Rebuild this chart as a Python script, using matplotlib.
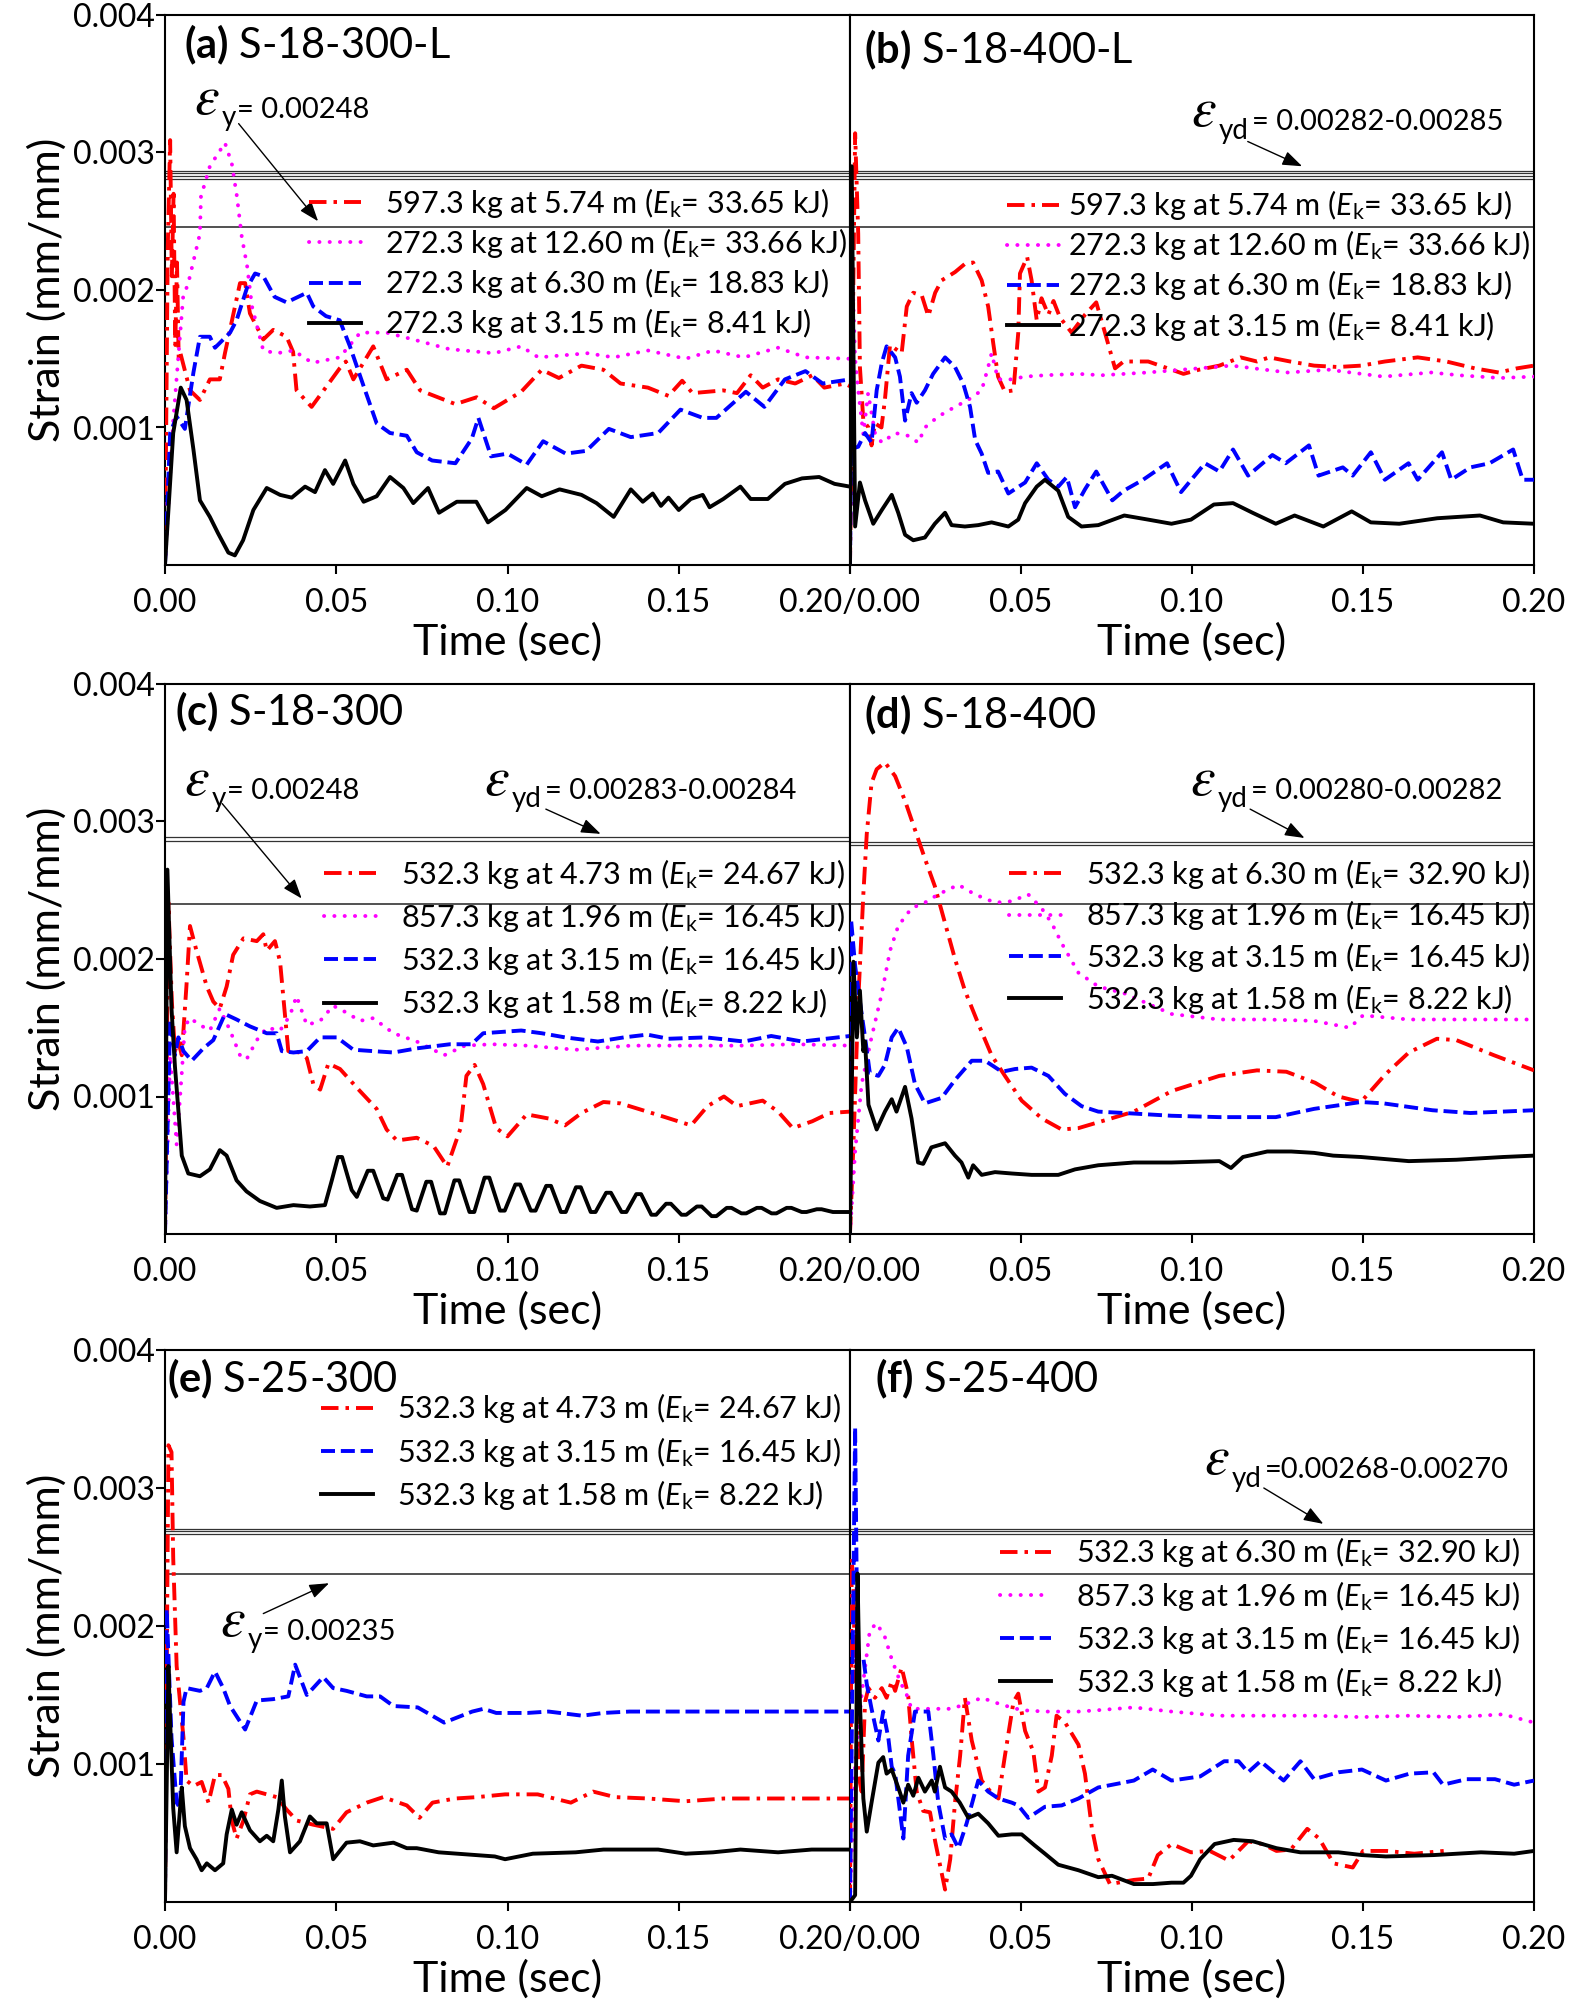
import matplotlib
matplotlib.use("Agg")
import matplotlib.pyplot as plt
from matplotlib.ticker import FixedLocator

plt.rcParams["font.family"] = ["Lato", "DejaVu Sans"]
plt.rcParams["mathtext.fontset"] = "custom"
plt.rcParams["mathtext.rm"] = "Lato"
plt.rcParams["mathtext.it"] = "Lato:italic"
plt.rcParams["mathtext.bf"] = "Lato:bold"

# ---------------- data: (time s, strain x1e-3) ----------------
a_red = [(0, 0), (0.0008, 2.3), (0.0015, 3.09), (0.002, 2.1), (0.0025, 2.7), (0.003, 1.6), (0.0035, 2.2),
         (0.004, 1.5), (0.0045, 1.54), (0.0073, 1.27), (0.0102, 1.2), (0.0131, 1.35), (0.016, 1.35),
         (0.0175, 1.54), (0.0219, 2.05), (0.0234, 2.05), (0.0248, 1.83), (0.0287, 1.64), (0.0316, 1.71),
         (0.0355, 1.66), (0.0374, 1.55), (0.0384, 1.27), (0.0428, 1.15), (0.0472, 1.3), (0.051, 1.43),
         (0.0528, 1.48), (0.055, 1.35), (0.0608, 1.59), (0.0647, 1.35), (0.0706, 1.42), (0.0745, 1.27),
         (0.0848, 1.17), (0.091, 1.22), (0.096, 1.14), (0.104, 1.26), (0.110, 1.42), (0.115, 1.36),
         (0.1216, 1.45), (0.128, 1.42), (0.133, 1.32), (0.141, 1.29), (0.147, 1.23), (0.151, 1.34),
         (0.154, 1.25), (0.163, 1.27), (0.167, 1.25), (0.171, 1.38), (0.1745, 1.29), (0.179, 1.35),
         (0.184, 1.32), (0.189, 1.38), (0.1925, 1.29), (0.1985, 1.32), (0.2, 1.30)]
a_mag = [(0, 0), (0.0024, 1.05), (0.0053, 1.95), (0.0068, 2.05), (0.0102, 2.41), (0.0105, 2.68), (0.0131, 2.9),
         (0.0175, 3.07), (0.0195, 2.92), (0.021, 2.68), (0.0224, 2.39), (0.024, 2.17), (0.0254, 1.88),
         (0.0287, 1.56), (0.0326, 1.54), (0.0375, 1.56), (0.043, 1.47), (0.051, 1.51), (0.057, 1.69),
         (0.0647, 1.69), (0.0725, 1.64), (0.083, 1.57), (0.096, 1.54), (0.104, 1.59), (0.109, 1.51),
         (0.1234, 1.54), (0.131, 1.51), (0.141, 1.56), (0.152, 1.5), (0.16, 1.56), (0.169, 1.51),
         (0.179, 1.58), (0.187, 1.51), (0.2, 1.5)]
a_blue = [(0, 0), (0.0015, 0.96), (0.0034, 1.08), (0.0058, 0.99), (0.0083, 1.4), (0.0102, 1.66), (0.0131, 1.66),
          (0.0146, 1.58), (0.019, 1.69), (0.0209, 1.78), (0.024, 2.02), (0.0263, 2.12), (0.0287, 2.1),
          (0.032, 1.95), (0.0355, 1.91), (0.0414, 1.98), (0.0433, 1.88), (0.047, 1.81), (0.051, 1.78),
          (0.054, 1.59), (0.058, 1.3), (0.0618, 1.03), (0.0657, 0.96), (0.0706, 0.94), (0.0735, 0.82),
          (0.078, 0.76), (0.0848, 0.74), (0.0896, 0.92), (0.0915, 1.07), (0.0952, 0.79), (0.1, 0.81),
          (0.1056, 0.73), (0.1104, 0.9), (0.117, 0.81), (0.123, 0.83), (0.1296, 0.99), (0.136, 0.93),
          (0.144, 0.96), (0.1505, 1.13), (0.157, 1.07), (0.161, 1.07), (0.1696, 1.26), (0.175, 1.15),
          (0.181, 1.35), (0.187, 1.41), (0.192, 1.32), (0.2, 1.35)]
a_black = [(0, 0), (0.0024, 0.96), (0.0046, 1.29), (0.0063, 1.2), (0.0083, 0.84), (0.0102, 0.47), (0.0131, 0.35),
           (0.0155, 0.23), (0.0185, 0.09), (0.0204, 0.07), (0.0228, 0.18), (0.0258, 0.4), (0.0297, 0.56),
           (0.0336, 0.51), (0.037, 0.49), (0.0409, 0.57), (0.0438, 0.53), (0.0467, 0.69), (0.0491, 0.59),
           (0.0526, 0.76), (0.055, 0.59), (0.058, 0.46), (0.0618, 0.5), (0.0657, 0.64), (0.0696, 0.56),
           (0.0725, 0.45), (0.0768, 0.56), (0.08, 0.38), (0.0852, 0.46), (0.0909, 0.46), (0.0943, 0.31),
           (0.0994, 0.4), (0.1056, 0.56), (0.11, 0.5), (0.1152, 0.55), (0.1216, 0.51), (0.126, 0.45),
           (0.131, 0.35), (0.136, 0.55), (0.1395, 0.46), (0.1424, 0.52), (0.1448, 0.43), (0.147, 0.49),
           (0.15, 0.4), (0.1535, 0.48), (0.157, 0.51), (0.159, 0.42), (0.163, 0.48), (0.168, 0.57),
           (0.171, 0.48), (0.176, 0.48), (0.181, 0.59), (0.186, 0.63), (0.191, 0.64), (0.1955, 0.59), (0.2, 0.57)]

b_red = [(0, 0), (0.0015, 3.14), (0.0024, 2.41), (0.0029, 1.44), (0.0039, 1.05), (0.0054, 1.0), (0.0063, 0.87),
         (0.0073, 1.03), (0.0092, 1.0), (0.0102, 1.2), (0.0117, 1.6), (0.0151, 1.54), (0.0166, 1.88),
         (0.0185, 1.98), (0.021, 1.96), (0.0229, 1.81), (0.0249, 1.98), (0.0268, 2.07), (0.0307, 2.13),
         (0.0336, 2.19), (0.036, 2.2), (0.0385, 2.07), (0.0404, 1.88), (0.0419, 1.61), (0.0433, 1.37),
         (0.0453, 1.26), (0.0478, 1.27), (0.0492, 1.69), (0.0497, 2.12), (0.0518, 2.24), (0.0531, 2.07),
         (0.0546, 1.78), (0.056, 1.94), (0.058, 1.82), (0.0595, 1.92), (0.0614, 1.8), (0.0648, 1.69),
         (0.0687, 1.82), (0.072, 1.91), (0.0742, 1.72), (0.0775, 1.43), (0.08, 1.48), (0.0872, 1.48),
         (0.0941, 1.42), (0.0975, 1.39), (0.102, 1.42), (0.108, 1.45), (0.1142, 1.51), (0.119, 1.48),
         (0.1226, 1.51), (0.1287, 1.48), (0.1357, 1.45), (0.1426, 1.44), (0.1495, 1.45), (0.1564, 1.48),
         (0.166, 1.51), (0.1744, 1.48), (0.1827, 1.43), (0.1897, 1.40), (0.195, 1.43), (0.2, 1.45)]
b_mag = [(0, 0), (0.0008, 2.05), (0.0015, 1.5), (0.0024, 1.27), (0.0039, 0.95), (0.0053, 1.25), (0.0073, 0.96),
         (0.0093, 0.89), (0.0132, 0.96), (0.017, 0.94), (0.02, 0.89), (0.0219, 1.0), (0.0258, 1.08),
         (0.0307, 1.15), (0.0345, 1.2), (0.0385, 1.27), (0.0404, 1.44), (0.0414, 1.54), (0.0433, 1.35),
         (0.047, 1.35), (0.0512, 1.37), (0.057, 1.38), (0.0667, 1.39), (0.0736, 1.38), (0.087, 1.40),
         (0.1116, 1.45), (0.128, 1.40), (0.14, 1.42), (0.156, 1.37), (0.17, 1.40), (0.178, 1.38),
         (0.19, 1.36), (0.2, 1.37)]
b_blue = [(0, 0), (0.0005, 1.3), (0.001, 0.85), (0.0024, 0.86), (0.0044, 0.96), (0.0063, 0.89), (0.0078, 1.27),
          (0.0093, 1.47), (0.0107, 1.59), (0.0132, 1.51), (0.0146, 1.37), (0.0161, 1.05), (0.018, 1.25),
          (0.0195, 1.18), (0.0219, 1.27), (0.0243, 1.39), (0.0278, 1.51), (0.0307, 1.44), (0.0331, 1.32),
          (0.0351, 1.15), (0.0366, 0.91), (0.0385, 0.81), (0.0404, 0.67), (0.0433, 0.68), (0.0463, 0.52),
          (0.0512, 0.6), (0.0546, 0.74), (0.058, 0.62), (0.0609, 0.57), (0.0634, 0.64), (0.0658, 0.42),
          (0.0687, 0.55), (0.072, 0.68), (0.0767, 0.47), (0.08, 0.54), (0.0857, 0.62), (0.0927, 0.74),
          (0.0968, 0.53), (0.1038, 0.74), (0.108, 0.68), (0.112, 0.84), (0.1164, 0.65), (0.1235, 0.8),
          (0.1274, 0.74), (0.1342, 0.87), (0.137, 0.65), (0.1441, 0.71), (0.147, 0.65), (0.1523, 0.82),
          (0.1564, 0.62), (0.1633, 0.74), (0.166, 0.62), (0.1731, 0.82), (0.1758, 0.62), (0.1814, 0.71),
          (0.187, 0.74), (0.1939, 0.84), (0.1967, 0.62), (0.2, 0.62)]
b_black = [(0, 0), (0.0005, 2.9), (0.0015, 0.28), (0.0029, 0.6), (0.0044, 0.47), (0.0068, 0.3), (0.0093, 0.4),
           (0.0122, 0.51), (0.0141, 0.38), (0.0161, 0.22), (0.0185, 0.18), (0.0219, 0.2), (0.0248, 0.3),
           (0.0278, 0.38), (0.0297, 0.29), (0.0336, 0.28), (0.0375, 0.29), (0.0414, 0.31), (0.0463, 0.28),
           (0.0492, 0.33), (0.0512, 0.45), (0.0546, 0.57), (0.057, 0.62), (0.0609, 0.54), (0.0638, 0.35),
           (0.0677, 0.28), (0.0726, 0.29), (0.0802, 0.36), (0.0872, 0.33), (0.094, 0.3), (0.0997, 0.33),
           (0.1064, 0.44), (0.112, 0.45), (0.1177, 0.38), (0.1245, 0.3), (0.13, 0.36), (0.1384, 0.28),
           (0.1467, 0.39), (0.1523, 0.31), (0.1606, 0.3), (0.1717, 0.34), (0.1842, 0.36), (0.191, 0.31), (0.2, 0.3)]

c_red = [(0, 0), (0.001, 2.41), (0.002, 1.69), (0.0029, 1.33), (0.0039, 1.40), (0.0049, 1.30), (0.0063, 1.82),
         (0.0073, 2.24), (0.0092, 2.06), (0.0122, 1.80), (0.0141, 1.69), (0.016, 1.64), (0.018, 1.80),
         (0.0199, 2.03), (0.0229, 2.15), (0.0268, 2.13), (0.0287, 2.18), (0.0297, 2.06), (0.0321, 2.13),
         (0.0336, 1.98), (0.036, 1.33), (0.0394, 1.32), (0.0414, 1.28), (0.0433, 1.09), (0.0453, 1.05),
         (0.0477, 1.24), (0.0511, 1.2), (0.0569, 1.04), (0.0618, 0.91), (0.0647, 0.76), (0.0677, 0.68),
         (0.0735, 0.70), (0.0784, 0.64), (0.0824, 0.49), (0.0863, 0.77), (0.088, 1.15), (0.0904, 1.23),
         (0.0929, 1.09), (0.0967, 0.77), (0.1, 0.71), (0.1056, 0.87), (0.112, 0.84), (0.1168, 0.79),
         (0.1216, 0.88), (0.128, 0.96), (0.133, 0.95), (0.1408, 0.89), (0.146, 0.85), (0.1536, 0.79),
         (0.1584, 0.93), (0.1632, 1.0), (0.167, 0.93), (0.1745, 0.97), (0.179, 0.89), (0.1833, 0.77),
         (0.189, 0.82), (0.194, 0.88), (0.2, 0.89)]
c_mag = [(0, 0), (0.0015, 1.30), (0.0034, 0.65), (0.0049, 1.17), (0.0058, 1.51), (0.0073, 1.57), (0.0102, 1.52),
         (0.0131, 1.48), (0.016, 1.64), (0.019, 1.48), (0.0219, 1.30), (0.0238, 1.27), (0.0268, 1.41),
         (0.0297, 1.50), (0.0336, 1.48), (0.0365, 1.59), (0.0384, 1.73), (0.0414, 1.52), (0.0453, 1.55),
         (0.0491, 1.66), (0.053, 1.61), (0.0569, 1.55), (0.0608, 1.57), (0.0667, 1.46), (0.0735, 1.40),
         (0.0815, 1.30), (0.0876, 1.37), (0.0955, 1.38), (0.1056, 1.37), (0.12, 1.34), (0.136, 1.37),
         (0.152, 1.37), (0.168, 1.37), (0.184, 1.38), (0.2, 1.37)]
c_blue = [(0, 0), (0.0015, 1.56), (0.0029, 1.30), (0.0039, 1.43), (0.0054, 1.33), (0.0078, 1.26), (0.0112, 1.35),
          (0.0141, 1.41), (0.0175, 1.60), (0.0209, 1.56), (0.0248, 1.51), (0.0297, 1.46), (0.0326, 1.46),
          (0.0341, 1.33), (0.0375, 1.32), (0.0414, 1.33), (0.0453, 1.43), (0.0502, 1.43), (0.055, 1.34),
          (0.0608, 1.33), (0.0667, 1.32), (0.0735, 1.35), (0.0832, 1.38), (0.0895, 1.38), (0.0929, 1.46),
          (0.104, 1.48), (0.11, 1.46), (0.1168, 1.43), (0.1264, 1.40), (0.134, 1.43), (0.1408, 1.45),
          (0.147, 1.42), (0.158, 1.43), (0.169, 1.40), (0.177, 1.44), (0.186, 1.40), (0.2, 1.44)]
c_black = [(0, 0), (0.0007, 2.65), (0.0019, 1.64), (0.0029, 1.22), (0.0039, 0.90), (0.0049, 0.57), (0.0068, 0.44),
           (0.0102, 0.42), (0.0131, 0.47), (0.016, 0.61), (0.018, 0.57), (0.0209, 0.39), (0.0238, 0.31),
           (0.0277, 0.24), (0.0326, 0.19), (0.0375, 0.21), (0.0423, 0.20), (0.0467, 0.21), (0.0487, 0.39),
           (0.0505, 0.56), (0.0517, 0.56), (0.0545, 0.32), (0.0560, 0.27), (0.0592, 0.46), (0.0608, 0.46),
           (0.0637, 0.26), (0.0650, 0.25), (0.0678, 0.43), (0.0692, 0.43), (0.0721, 0.18), (0.0735, 0.17),
           (0.0763, 0.38), (0.0777, 0.38), (0.0803, 0.15), (0.0817, 0.15), (0.0845, 0.39), (0.0859, 0.39),
           (0.0889, 0.16), (0.0903, 0.16), (0.0933, 0.41), (0.0947, 0.41), (0.0978, 0.17), (0.0992, 0.17),
           (0.1023, 0.36), (0.1037, 0.36), (0.1068, 0.17), (0.1082, 0.17), (0.1113, 0.35), (0.1127, 0.35),
           (0.1156, 0.16), (0.1170, 0.16), (0.1200, 0.34), (0.1214, 0.34), (0.1243, 0.16), (0.1257, 0.16),
           (0.1288, 0.30), (0.1302, 0.30), (0.1333, 0.16), (0.1347, 0.16), (0.1376, 0.29), (0.1390, 0.29),
           (0.1420, 0.14), (0.1434, 0.14), (0.1463, 0.22), (0.1477, 0.22), (0.1508, 0.14), (0.1522, 0.14),
           (0.1553, 0.20), (0.1567, 0.20), (0.1596, 0.13), (0.1610, 0.13), (0.1640, 0.19), (0.1654, 0.19),
           (0.1683, 0.15), (0.1697, 0.15), (0.1728, 0.19), (0.1742, 0.19), (0.1771, 0.15), (0.1785, 0.15),
           (0.1815, 0.19), (0.1829, 0.19), (0.1859, 0.16), (0.1873, 0.16), (0.1903, 0.18), (0.1917, 0.18),
           (0.1950, 0.16), (0.2, 0.16)]

d_red = [(0, 0), (0.001, 0.65), (0.0024, 1.69), (0.0039, 2.47), (0.0049, 2.91), (0.0063, 3.28), (0.0078, 3.38),
         (0.0102, 3.43), (0.0132, 3.33), (0.0161, 3.15), (0.019, 2.94), (0.0219, 2.73), (0.0248, 2.53),
         (0.0278, 2.26), (0.0307, 2.0), (0.0336, 1.77), (0.0375, 1.53), (0.0414, 1.30), (0.0453, 1.15),
         (0.0502, 0.97), (0.0561, 0.84), (0.0619, 0.76), (0.0668, 0.77), (0.0736, 0.82), (0.083, 0.89),
         (0.0941, 1.04), (0.108, 1.15), (0.119, 1.19), (0.1276, 1.18), (0.136, 1.10), (0.1428, 1.0),
         (0.1494, 0.96), (0.1565, 1.16), (0.1634, 1.32), (0.1716, 1.42), (0.1773, 1.41), (0.1883, 1.30), (0.2, 1.19)]
d_mag = [(0, 0), (0.0015, 0.6), (0.0034, 1.09), (0.0063, 1.43), (0.0093, 1.75), (0.0117, 2.06), (0.0141, 2.24),
         (0.018, 2.37), (0.0219, 2.41), (0.0258, 2.47), (0.0317, 2.54), (0.0365, 2.47), (0.0424, 2.41),
         (0.0473, 2.42), (0.0521, 2.47), (0.056, 2.37), (0.059, 2.26), (0.062, 2.11), (0.0668, 1.90),
         (0.0726, 1.80), (0.0802, 1.75), (0.094, 1.60), (0.1079, 1.56), (0.1218, 1.56), (0.1357, 1.55),
         (0.1461, 1.50), (0.15, 1.59), (0.1634, 1.56), (0.1773, 1.56), (0.2, 1.56)]
d_blue = [(0, 0), (0.0003, 2.29), (0.0015, 1.95), (0.0029, 1.69), (0.0044, 1.43), (0.0058, 1.17), (0.0083, 1.15),
          (0.0102, 1.23), (0.0122, 1.43), (0.0141, 1.50), (0.0166, 1.36), (0.019, 1.09), (0.0219, 0.95),
          (0.0268, 0.99), (0.0307, 1.12), (0.0356, 1.26), (0.0395, 1.26), (0.0444, 1.18), (0.0483, 1.20),
          (0.0531, 1.21), (0.058, 1.15), (0.0628, 1.02), (0.0677, 0.93), (0.0726, 0.89), (0.0802, 0.88),
          (0.094, 0.86), (0.1079, 0.85), (0.1245, 0.85), (0.1357, 0.91), (0.1494, 0.96), (0.156, 0.95),
          (0.1703, 0.90), (0.1814, 0.88), (0.2, 0.90)]
d_black = [(0, 0), (0.001, 1.98), (0.002, 1.43), (0.0029, 1.77), (0.0039, 1.33), (0.0044, 1.40), (0.0054, 0.94),
           (0.0078, 0.76), (0.0102, 0.89), (0.0122, 0.98), (0.0136, 0.89), (0.0161, 1.07), (0.018, 0.84),
           (0.0199, 0.52), (0.0214, 0.51), (0.0238, 0.63), (0.0278, 0.66), (0.0307, 0.57), (0.0326, 0.52),
           (0.0346, 0.41), (0.036, 0.50), (0.0385, 0.43), (0.0424, 0.45), (0.0473, 0.44), (0.0531, 0.43),
           (0.0609, 0.43), (0.0658, 0.47), (0.0726, 0.50), (0.083, 0.52), (0.094, 0.52), (0.108, 0.53),
           (0.1114, 0.48), (0.1149, 0.56), (0.122, 0.60), (0.129, 0.60), (0.1357, 0.59), (0.1413, 0.57),
           (0.1494, 0.56), (0.1634, 0.53), (0.1773, 0.54), (0.191, 0.56), (0.2, 0.57)]

e_red = [(0, 0), (0.001, 3.31), (0.0019, 3.26), (0.0024, 2.49), (0.0034, 1.71), (0.0044, 1.45), (0.0054, 1.19),
         (0.0063, 0.88), (0.0083, 0.84), (0.0107, 0.87), (0.0127, 0.72), (0.0146, 0.92), (0.0166, 0.92),
         (0.0185, 0.82), (0.0195, 0.59), (0.0209, 0.46), (0.0229, 0.59), (0.0248, 0.78), (0.0268, 0.80),
         (0.0326, 0.76), (0.0355, 0.67), (0.0385, 0.59), (0.0433, 0.56), (0.0491, 0.53), (0.053, 0.65),
         (0.0589, 0.72), (0.0637, 0.76), (0.0706, 0.70), (0.0743, 0.61), (0.0781, 0.72), (0.0847, 0.75),
         (0.0911, 0.76), (0.0993, 0.78), (0.1088, 0.78), (0.1185, 0.72), (0.125, 0.80), (0.1314, 0.76),
         (0.141, 0.75), (0.152, 0.73), (0.1632, 0.75), (0.176, 0.75), (0.1888, 0.75), (0.2, 0.75)]
e_blue = [(0, 0), (0.0005, 2.12), (0.0019, 1.19), (0.0034, 0.72), (0.0044, 0.68), (0.0054, 1.45), (0.0063, 1.55),
          (0.0102, 1.53), (0.0122, 1.55), (0.0146, 1.67), (0.017, 1.55), (0.019, 1.42), (0.0234, 1.25),
          (0.0268, 1.46), (0.0316, 1.47), (0.036, 1.49), (0.038, 1.72), (0.0414, 1.50), (0.0462, 1.63),
          (0.0491, 1.55), (0.053, 1.53), (0.0589, 1.49), (0.0628, 1.49), (0.0667, 1.42), (0.0738, 1.41),
          (0.0815, 1.30), (0.0897, 1.38), (0.093, 1.40), (0.0967, 1.37), (0.1058, 1.37), (0.112, 1.38),
          (0.1218, 1.35), (0.128, 1.37), (0.1356, 1.38), (0.152, 1.38), (0.168, 1.38), (0.1839, 1.38), (0.2, 1.38)]
e_black = [(0, 0), (0.001, 1.71), (0.0015, 1.32), (0.0024, 0.68), (0.0034, 0.36), (0.0044, 0.68), (0.0049, 0.83),
           (0.0058, 0.55), (0.0073, 0.39), (0.0092, 0.31), (0.0107, 0.23), (0.0122, 0.28), (0.0146, 0.23),
           (0.017, 0.28), (0.018, 0.49), (0.0195, 0.67), (0.0209, 0.56), (0.0224, 0.65), (0.0248, 0.52),
           (0.0277, 0.44), (0.0297, 0.48), (0.0316, 0.44), (0.0331, 0.67), (0.0341, 0.88), (0.035, 0.62),
           (0.0365, 0.36), (0.0394, 0.44), (0.0423, 0.62), (0.0443, 0.57), (0.0472, 0.57), (0.0491, 0.31),
           (0.053, 0.43), (0.0569, 0.44), (0.0608, 0.41), (0.0667, 0.43), (0.0706, 0.39), (0.0735, 0.39),
           (0.0799, 0.36), (0.0963, 0.33), (0.0993, 0.31), (0.1074, 0.35), (0.1199, 0.36), (0.128, 0.38),
           (0.144, 0.38), (0.152, 0.35), (0.16, 0.36), (0.168, 0.38), (0.179, 0.36), (0.1888, 0.38), (0.2, 0.38)]

f_red = [(0, 0), (0.0005, 2.49), (0.001, 2.28), (0.0015, 1.6), (0.002, 2.1), (0.0024, 0.93), (0.0034, 0.80),
         (0.0044, 1.45), (0.0054, 1.55), (0.0073, 1.48), (0.0093, 1.55), (0.0107, 1.48), (0.0122, 1.60),
         (0.0132, 1.53), (0.0151, 1.70), (0.017, 1.50), (0.018, 1.19), (0.0195, 0.80), (0.0214, 0.66),
         (0.0234, 0.65), (0.0249, 0.44), (0.0268, 0.21), (0.0278, 0.09), (0.0293, 0.31), (0.0307, 0.72),
         (0.0322, 1.06), (0.0336, 1.48), (0.0356, 1.17), (0.0385, 0.88), (0.0414, 0.79), (0.0434, 0.75),
         (0.0453, 1.06), (0.0478, 1.45), (0.0492, 1.51), (0.0512, 1.24), (0.0536, 1.09), (0.0551, 0.80),
         (0.057, 0.83), (0.059, 1.06), (0.0604, 1.35), (0.0629, 1.30), (0.0668, 1.14), (0.0687, 0.93),
         (0.0707, 0.54), (0.0726, 0.31), (0.076, 0.13), (0.083, 0.16), (0.0872, 0.17), (0.09, 0.34),
         (0.0941, 0.42), (0.0997, 0.36), (0.1052, 0.37), (0.1108, 0.30), (0.1164, 0.44), (0.1206, 0.42),
         (0.1247, 0.37), (0.1289, 0.38), (0.1337, 0.53), (0.1372, 0.46), (0.1414, 0.28), (0.147, 0.25),
         (0.150, 0.37), (0.157, 0.37), (0.165, 0.35), (0.1736, 0.37)]
f_mag = [(0, 0), (0.0015, 1.0), (0.0034, 1.50), (0.0058, 1.97), (0.0078, 2.02), (0.0102, 1.92), (0.0122, 1.76),
         (0.0146, 1.60), (0.0166, 1.50), (0.018, 1.40), (0.0229, 1.40), (0.0297, 1.40), (0.0356, 1.45),
         (0.0385, 1.48), (0.0443, 1.43), (0.0502, 1.39), (0.057, 1.38), (0.0668, 1.38), (0.0726, 1.39),
         (0.083, 1.41), (0.094, 1.38), (0.108, 1.35), (0.1218, 1.35), (0.1357, 1.35), (0.1494, 1.34),
         (0.1634, 1.35), (0.1773, 1.34), (0.191, 1.36), (0.2, 1.30)]
f_blue = [(0, 0), (0.0015, 3.44), (0.002, 2.22), (0.0024, 1.76), (0.0039, 1.77), (0.0049, 1.58), (0.0063, 1.40),
          (0.0083, 1.17), (0.0097, 1.38), (0.0112, 1.19), (0.0122, 0.98), (0.0132, 0.93), (0.0156, 0.46),
          (0.017, 1.06), (0.019, 1.38), (0.0229, 1.38), (0.0244, 1.06), (0.0258, 0.72), (0.0278, 0.46),
          (0.0297, 0.49), (0.0317, 0.39), (0.0341, 0.57), (0.0375, 0.88), (0.0404, 0.80), (0.0434, 0.75),
          (0.0473, 0.72), (0.0492, 0.70), (0.0521, 0.61), (0.057, 0.69), (0.0619, 0.70), (0.0668, 0.75),
          (0.0726, 0.83), (0.083, 0.88), (0.0885, 0.96), (0.094, 0.88), (0.1024, 0.91), (0.1094, 1.02),
          (0.1136, 1.02), (0.1164, 0.94), (0.12, 1.02), (0.1268, 0.88), (0.1317, 1.02), (0.1357, 0.89),
          (0.1428, 0.94), (0.1497, 0.96), (0.1567, 0.88), (0.1636, 0.93), (0.1706, 0.94), (0.1734, 0.85),
          (0.1803, 0.89), (0.1886, 0.89), (0.1942, 0.85), (0.2, 0.88)]
f_black = [(0, 0), (0.0015, 0.05), (0.0022, 2.38), (0.0029, 1.45), (0.0039, 0.75), (0.0049, 0.51), (0.0063, 0.72),
           (0.0083, 1.01), (0.0097, 1.05), (0.0107, 0.93), (0.0122, 0.96), (0.0141, 0.83), (0.0156, 0.72),
           (0.017, 0.85), (0.0185, 0.77), (0.02, 0.90), (0.0219, 0.80), (0.0239, 0.88), (0.0248, 0.80),
           (0.0263, 0.98), (0.0278, 0.83), (0.0297, 0.80), (0.0321, 0.72), (0.0346, 0.61), (0.0375, 0.64),
           (0.0404, 0.57), (0.0434, 0.48), (0.0473, 0.49), (0.0502, 0.49), (0.054, 0.41), (0.057, 0.35),
           (0.0609, 0.27), (0.0668, 0.23), (0.0726, 0.18), (0.0766, 0.19), (0.083, 0.13), (0.0886, 0.13),
           (0.094, 0.14), (0.0975, 0.14), (0.0997, 0.19), (0.1024, 0.31), (0.1066, 0.42), (0.1122, 0.45),
           (0.1178, 0.44), (0.1247, 0.39), (0.1317, 0.36), (0.1428, 0.36), (0.1497, 0.34), (0.1567, 0.33),
           (0.1706, 0.34), (0.1845, 0.36), (0.1942, 0.35), (0.2, 0.37)]

# legend labels
EK = r"($\mathit{E}_{\mathrm{k}}$= "
lab_L = ["597.3 kg at 5.74 m " + EK + "33.65 kJ)", "272.3 kg at 12.60 m " + EK + "33.66 kJ)",
         "272.3 kg at 6.30 m " + EK + "18.83 kJ)", "272.3 kg at 3.15 m " + EK + "8.41 kJ)"]
lab_c = ["532.3 kg at 4.73 m " + EK + "24.67 kJ)", "857.3 kg at 1.96 m " + EK + "16.45 kJ)",
         "532.3 kg at 3.15 m " + EK + "16.45 kJ)", "532.3 kg at 1.58 m " + EK + "8.22 kJ)"]
lab_d = ["532.3 kg at 6.30 m " + EK + "32.90 kJ)", "857.3 kg at 1.96 m " + EK + "16.45 kJ)",
         "532.3 kg at 3.15 m " + EK + "16.45 kJ)", "532.3 kg at 1.58 m " + EK + "8.22 kJ)"]
lab_e = ["532.3 kg at 4.73 m " + EK + "24.67 kJ)", "532.3 kg at 3.15 m " + EK + "16.45 kJ)",
         "532.3 kg at 1.58 m " + EK + "8.22 kJ)"]

# yield strain reference lines (x1e-3)
yd_lines = {"a": [2.807, 2.827, 2.851, 2.868], "b": [2.807, 2.827, 2.851, 2.868],
            "c": [2.855, 2.887], "d": [2.826, 2.852],
            "e": [2.670, 2.687, 2.704], "f": [2.670, 2.687, 2.704]}
y_lines = {"a": 2.456, "b": 2.456, "c": 2.40, "d": 2.40, "e": 2.38, "f": 2.38}

STY = {
    "red": dict(color="#ff0000", dashes=(4.5, 1.8, 0.9, 1.8)),
    "mag": dict(color="#ff00ff", dashes=(0.05, 2.6), dash_capstyle="round"),
    "blue": dict(color="#0000ff", dashes=(3.6, 1.5)),
    "black": dict(color="black"),
}
LW = 2.8

W, H = 1583, 2004
fig = plt.figure(figsize=(W / 100, H / 100), dpi=100)
rows = [(15, 565), (684, 1234), (1350, 1902)]
cols = [(165, 850), (850, 1534)]


def make_ax(ci, ri):
    x0, x1 = cols[ci]
    y0, y1 = rows[ri]
    ax = fig.add_axes([x0 / W, 1 - y1 / H, (x1 - x0) / W, (y1 - y0) / H])
    ax.set_xlim(0, 0.2)
    ax.set_ylim(0, 0.004)
    for s in ax.spines.values():
        s.set_linewidth(1.5)
    ax.xaxis.set_major_locator(FixedLocator([0, 0.05, 0.10, 0.15, 0.20]))
    if ci == 0:
        ax.set_xticklabels(["0.00", "0.05", "0.10", "0.15", "0.20/0.00"])
        ax.yaxis.set_major_locator(FixedLocator([0.001, 0.002, 0.003, 0.004]))
        ax.set_yticklabels(["0.001", "0.002", "0.003", "0.004"])
        ax.set_ylabel("Strain (mm/mm)", fontsize=31, labelpad=4)
    else:
        ax.set_xticklabels(["", "0.05", "0.10", "0.15", "0.20"])
        ax.tick_params(axis="y", left=False, labelleft=False)
    ax.tick_params(axis="x", direction="out", length=6.5, width=1.5, labelsize=23, pad=10)
    ax.tick_params(axis="y", direction="out", length=6.5, width=1.5, labelsize=23, pad=1)
    ax.set_xlabel("Time (sec)", fontsize=31, labelpad=3)
    return ax


def draw(ax, key, series):
    for v in yd_lines[key]:
        ax.axhline(v * 1e-3, color="#333333", lw=0.9, zorder=1)
    ax.axhline(y_lines[key] * 1e-3, color="#333333", lw=1.2, zorder=1)
    handles = []
    for data, sty in series:
        t = [p[0] for p in data]
        v = [p[1] * 1e-3 for p in data]
        ln, = ax.plot(t, v, lw=LW, zorder=3, **STY[sty])
        handles.append(ln)
    return handles


def eps_note(ax, x, y, sub, rest):
    # big epsilon, subscript, then the value text
    rest_dx = 31 if len(sub) == 1 else 44
    ax.annotate(r"$\varepsilon$", (x, y * 1e-3), xytext=(0, 3), textcoords="offset points",
                fontsize=40, math_fontfamily="stix", ha="left", va="baseline")
    ax.annotate(sub, (x, y * 1e-3), xytext=(20, -6), textcoords="offset points",
                fontsize=20, ha="left", va="baseline")
    ax.annotate(rest, (x, y * 1e-3), xytext=(rest_dx, 0), textcoords="offset points",
                fontsize=21, ha="left", va="baseline")


def arrow(ax, p0, p1):
    ax.annotate("", xy=(p1[0], p1[1] * 1e-3), xytext=(p0[0], p0[1] * 1e-3),
                arrowprops=dict(arrowstyle="-|>,head_length=0.6,head_width=0.22", color="black",
                                lw=1.0, shrinkA=0, shrinkB=0, mutation_scale=20))


def title(ax, x, y, tag, name):
    ax.text(x, y, r"$\mathbf{(" + tag + ")}$ " + name, transform=ax.transAxes,
            fontsize=30, ha="left", va="baseline")


def legend(ax, handles, labels, anchor, tpad=0.8, lsp=0.2):
    ax.legend(handles, labels, loc="upper right", bbox_to_anchor=anchor, frameon=False,
              fontsize=22, borderpad=0, borderaxespad=0, handlelength=1.7,
              handletextpad=tpad, labelspacing=lsp)


# (a)
ax = make_ax(0, 0)
h = draw(ax, "a", [(a_red, "red"), (a_mag, "mag"), (a_blue, "blue"), (a_black, "black")])
legend(ax, h, lab_L, (0.996, 0.689))
title(ax, 0.028, 0.922, "a", "S-18-300-L")
eps_note(ax, 0.0085, 3.25, "y", "= 0.00248")
arrow(ax, (0.0215, 3.21), (0.0447, 2.50))

# (b)
ax = make_ax(1, 0)
h = draw(ax, "b", [(b_red, "red"), (b_mag, "mag"), (b_blue, "blue"), (b_black, "black")])
legend(ax, h, lab_L, (0.994, 0.685), tpad=0.3)
title(ax, 0.02, 0.913, "b", "S-18-400-L")
eps_note(ax, 0.0996, 3.16, "yd", "= 0.00282-0.00285")
arrow(ax, (0.1163, 3.08), (0.1322, 2.90))

# (c)
ax = make_ax(0, 1)
h = draw(ax, "c", [(c_red, "red"), (c_mag, "mag"), (c_blue, "blue"), (c_black, "black")])
legend(ax, h, lab_c, (0.993, 0.686), lsp=0.3)
title(ax, 0.014, 0.925, "c", "S-18-300")
eps_note(ax, 0.0055, 3.165, "y", "= 0.00248")
arrow(ax, (0.0167, 3.13), (0.0399, 2.44))
eps_note(ax, 0.0930, 3.165, "yd", "= 0.00283-0.00284")
arrow(ax, (0.1112, 3.09), (0.1272, 2.91))

# (d)
ax = make_ax(1, 1)
h = draw(ax, "d", [(d_red, "red"), (d_mag, "mag"), (d_blue, "blue"), (d_black, "black")])
legend(ax, h, lab_d, (0.994, 0.686), lsp=0.25)
title(ax, 0.02, 0.92, "d", "S-18-400")
eps_note(ax, 0.0995, 3.165, "yd", "= 0.00280-0.00282")
arrow(ax, (0.117, 3.09), (0.1329, 2.88))

# (e)
ax = make_ax(0, 2)
h = draw(ax, "e", [(e_red, "red"), (e_blue, "blue"), (e_black, "black")])
legend(ax, h, lab_e, (0.988, 0.925), lsp=0.3)
title(ax, 0.0034, 0.924, "e", "S-25-300")
eps_note(ax, 0.0160, 1.90, "y", "= 0.00235")
arrow(ax, (0.0287, 2.09), (0.0479, 2.31))

# (f)
ax = make_ax(1, 2)
h = draw(ax, "f", [(f_red, "red"), (f_mag, "mag"), (f_blue, "blue"), (f_black, "black")])
legend(ax, h, lab_d, (0.98, 0.664), lsp=0.3)
title(ax, 0.037, 0.924, "f", "S-25-400")
eps_note(ax, 0.1035, 3.07, "yd", "=0.00268-0.00270")
arrow(ax, (0.121, 3.0), (0.1384, 2.74))

fig.savefig("out.png", dpi=100)
